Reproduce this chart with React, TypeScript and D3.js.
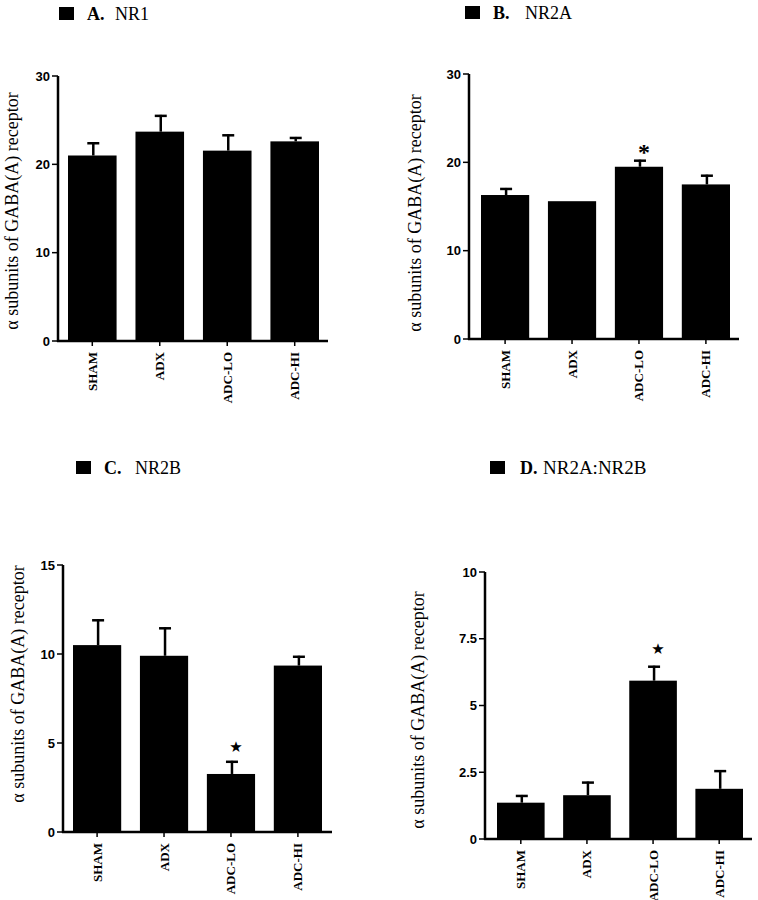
import React from "react";
import * as d3 from "d3";

const categories = ["SHAM", "ADX", "ADC-LO", "ADC-HI"];

const nr1Values = [21.0, 23.7, 21.55, 22.6];
const nr1ErrTop = [22.5, 25.6, 23.4, 23.1];
const nr1Ticks = [0, 10, 20, 30];

const nr2aValues = [16.3, 15.6, 19.5, 17.5];
const nr2aErrTop = [17.1, 15.6, 20.3, 18.6];
const nr2aTicks = [0, 10, 20, 30];

const nr2bValues = [10.5, 9.9, 3.26, 9.35];
const nr2bErrTop = [11.95, 11.5, 4.0, 9.9];
const nr2bTicks = [0, 5, 10, 15];

const ratioValues = [1.36, 1.64, 5.93, 1.88];
const ratioErrTop = [1.65, 2.15, 6.49, 2.58];
const ratioTicks = [0, 2.5, 5, 7.5, 10];
const ratioTickLabels = ["0", "2.5", "5", "7.5", "10"];

const yLabel = "α  subunits of GABA(A) receptor";

type PanelProps = {
  letter: string;
  name: string;
  values: number[];
  errTop: number[];
  ticks: number[];
  tickLabels?: string[];
  yMax: number;
  axisX: number;
  y0: number;
  yTop: number;
  xEnd: number;
  barStart: number;
  barEnd: number;
  titleX: number;
  titleY: number;
  letterX: number;
  nameX: number;
  nameSize?: number;
  labelX: number;
  labelY: number;
  markIndex?: number;
  markChar?: string;
  markY?: number;
};

const serif = "Liberation Serif, Times New Roman, DejaVu Serif, serif";
const sans = "Liberation Sans, Arial, DejaVu Sans, sans-serif";

function Panel(p: PanelProps) {
  const y = d3.scaleLinear().domain([0, p.yMax]).range([p.y0, p.yTop]);
  const x = d3
    .scaleBand<string>()
    .domain(categories)
    .range([p.barStart, p.barEnd])
    .paddingInner(0.28)
    .paddingOuter(0);
  const bw = x.bandwidth();
  return (
    <g>
      <rect x={p.titleX} y={p.titleY - 13} width={15} height={13} fill="#000" />
      <text x={p.letterX} y={p.titleY} fontFamily={serif} fontSize={18} fontWeight="bold" fill="#000">
        {p.letter}
      </text>
      <text x={p.nameX} y={p.titleY} fontFamily={serif} fontSize={p.nameSize ?? 18} fill="#000">
        {p.name}
      </text>
      <text
        transform={`translate(${p.labelX},${p.labelY}) rotate(-90)`}
        textAnchor="middle"
        dominantBaseline="central"
        fontFamily={serif}
        fontSize={18}
        fill="#000"
      >
        {yLabel}
      </text>
      {categories.map((c, i) => {
        const bx = x(c)!;
        const cx = bx + bw / 2 + 1;
        const top = y(p.values[i]);
        const et = y(p.errTop[i]);
        return (
          <g key={c}>
            <rect x={bx} y={top} width={bw} height={p.y0 - top} fill="#000" />
            {p.errTop[i] > p.values[i] && (
              <g stroke="#000" strokeWidth={2.5}>
                <line x1={cx} x2={cx} y1={top} y2={et} />
                <line x1={cx - 6} x2={cx + 6} y1={et + 1} y2={et + 1} />
              </g>
            )}
          </g>
        );
      })}
      <line x1={p.axisX} x2={p.axisX} y1={p.yTop} y2={p.y0 + 1} stroke="#000" strokeWidth={2.5} />
      <line x1={p.axisX - 1} x2={p.xEnd} y1={p.y0} y2={p.y0} stroke="#000" strokeWidth={2.5} />
      {p.ticks.map((t, i) => (
        <g key={t}>
          <line x1={p.axisX - 6} x2={p.axisX} y1={y(t)} y2={y(t)} stroke="#000" strokeWidth={1.5} />
          <text
            x={p.axisX - 8}
            y={y(t)}
            textAnchor="end"
            dominantBaseline="central"
            fontFamily={sans}
            fontSize={13}
            fontWeight="bold"
            fill="#000"
          >
            {p.tickLabels ? p.tickLabels[i] : String(t)}
          </text>
        </g>
      ))}
      {categories.map((c) => {
        const cx = x(c)! + bw / 2;
        return (
          <g key={c}>
            <line x1={cx} x2={cx} y1={p.y0} y2={p.y0 + 5} stroke="#000" strokeWidth={1.5} />
            <text
              transform={`translate(${cx},${p.y0 + 11}) rotate(-90)`}
              textAnchor="end"
              dominantBaseline="central"
              fontFamily={serif}
              fontSize={13}
              fontWeight="bold"
              fill="#000"
            >
              {c}
            </text>
          </g>
        );
      })}
      {p.markIndex !== undefined && (
        <text
          x={x(categories[p.markIndex])! + bw / 2 + 5}
          y={p.markY}
          textAnchor="middle"
          dominantBaseline="central"
          fontFamily={p.markChar === "*" ? serif : "DejaVu Sans, sans-serif"}
          fontSize={p.markChar === "*" ? 24 : 15}
          fontWeight="bold"
          fill="#000"
        >
          {p.markChar}
        </text>
      )}
    </g>
  );
}

export default function App() {
  return (
    <svg
      width={758}
      height={900}
      style={{ position: "absolute", left: 0, top: 0, background: "#fff" }}
    >
      <rect width={758} height={900} fill="#fff" />
      <Panel
        letter="A."
        name="NR1"
        values={nr1Values}
        errTop={nr1ErrTop}
        ticks={nr1Ticks}
        yMax={30}
        axisX={58}
        y0={341}
        yTop={76}
        xEnd={328}
        barStart={68}
        barEnd={319}
        titleX={59}
        titleY={20}
        letterX={87}
        nameX={115}
        labelX={12}
        labelY={211}
      />
      <Panel
        letter="B."
        name="NR2A"
        values={nr2aValues}
        errTop={nr2aErrTop}
        ticks={nr2aTicks}
        yMax={30}
        axisX={469}
        y0={339}
        yTop={74}
        xEnd={739}
        barStart={481}
        barEnd={730}
        titleX={465}
        titleY={19}
        letterX={493}
        nameX={525}
        labelX={415}
        labelY={213}
        markIndex={2}
        markChar="*"
        markY={152}
      />
      <Panel
        letter="C."
        name="NR2B"
        values={nr2bValues}
        errTop={nr2bErrTop}
        ticks={nr2bTicks}
        yMax={15}
        axisX={63}
        y0={832}
        yTop={565}
        xEnd={332}
        barStart={73}
        barEnd={322}
        titleX={76}
        titleY={474}
        letterX={104}
        nameX={135}
        labelX={18}
        labelY={684}
        markIndex={2}
        markChar="★"
        markY={747}
      />
      <Panel
        letter="D."
        name="NR2A:NR2B"
        values={ratioValues}
        errTop={ratioErrTop}
        ticks={ratioTicks}
        tickLabels={ratioTickLabels}
        yMax={10}
        axisX={485}
        y0={839}
        yTop={572}
        xEnd={752}
        barStart={497}
        barEnd={743}
        titleX={490}
        titleY={474}
        letterX={520}
        nameX={543}
        nameSize={19}
        labelX={418}
        labelY={710}
        markIndex={2}
        markChar="★"
        markY={649}
      />
    </svg>
  );
}
